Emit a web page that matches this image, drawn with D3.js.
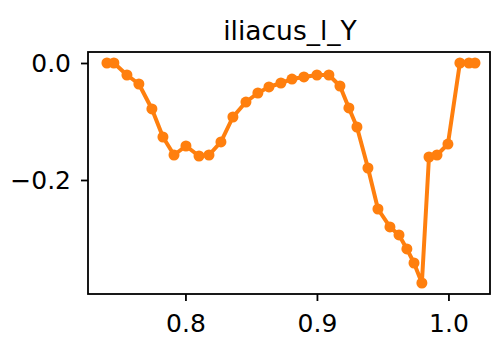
<!DOCTYPE html>
<html><head><meta charset="utf-8">
<script src="https://cdn.jsdelivr.net/npm/d3@7"></script>
<style>body{margin:0;background:#fff}svg{display:block}text{font-family:"DejaVu Sans",sans-serif;fill:#000}</style>
</head><body><div id="c"></div>
<script>
const title = "iliacus_l_Y";
const xValues = [0.7403,0.7456,0.7555,0.7646,0.7745,0.7829,0.7913,0.8004,0.8103,0.8179,0.8270,0.8361,0.8460,0.8551,0.8635,0.8726,0.8810,0.8901,0.9000,0.9091,0.9175,0.9243,0.9304,0.9388,0.9464,0.9555,0.9624,0.9684,0.9738,0.9798,0.9852,0.9913,0.9996,1.0087,1.0156,1.0202];
const yValues = [0,0,-0.0205,-0.0359,-0.0786,-0.1265,-0.1573,-0.1419,-0.1590,-0.1573,-0.1350,-0.0923,-0.0667,-0.0513,-0.0410,-0.0342,-0.0274,-0.0239,-0.0205,-0.0205,-0.0393,-0.0769,-0.1094,-0.1795,-0.2496,-0.2803,-0.2940,-0.3179,-0.3419,-0.3761,-0.1607,-0.1573,-0.1385,0,0,0];
const xTicks = [0.8,0.9,1.0];
const yTicks = [0.0,-0.2];

const W=491,H=337, L=88,R=490,T=52,B=294;
const svg=d3.select("#c").append("svg").attr("width",W).attr("height",H);
const x=d3.scaleLinear().domain([0.7259,1.0316]).range([L,R]);
const y=d3.scaleLinear().domain([-0.3949,0.0188]).range([B,T]);
const pts=xValues.map((v,i)=>[v,yValues[i]]);

svg.append("path").datum(pts).attr("fill","none").attr("stroke","#ff7f0e").attr("stroke-width",4)
  .attr("stroke-linejoin","round").attr("d",d3.line().x(d=>x(d[0])).y(d=>y(d[1])));
svg.selectAll("circle.p").data(pts).join("circle").attr("class","p")
  .attr("cx",d=>x(d[0])).attr("cy",d=>y(d[1])).attr("r",5.5).attr("fill","#ff7f0e");

const fmt=d=>d.toFixed(1).replace("-","\u2212");
const xa=svg.append("g").attr("transform",`translate(0,${B})`)
  .call(d3.axisBottom(x).tickValues(xTicks).tickFormat(fmt).tickSizeOuter(0).tickSize(7));
const ya=svg.append("g").attr("transform",`translate(${L},0)`)
  .call(d3.axisLeft(y).tickValues(yTicks).tickFormat(fmt).tickSizeOuter(0).tickSize(7));
[xa,ya].forEach(a=>{a.select(".domain").remove();a.selectAll("line").attr("stroke","#000").attr("stroke-width",1.8);
  a.selectAll("text").attr("font-size",25).attr("font-family","DejaVu Sans").attr("fill","#000");});
xa.selectAll("text").attr("y",38).attr("dy","0");
ya.selectAll("text").attr("x",-17).attr("dy","0.36em");
svg.append("rect").attr("x",L).attr("y",T).attr("width",R-L).attr("height",B-T)
  .attr("fill","none").attr("stroke","#000").attr("stroke-width",1.8);
svg.append("text").attr("x",(L+R)/2+1).attr("y",40).attr("text-anchor","middle").attr("font-size",26.5).text(title);
</script></body></html>
